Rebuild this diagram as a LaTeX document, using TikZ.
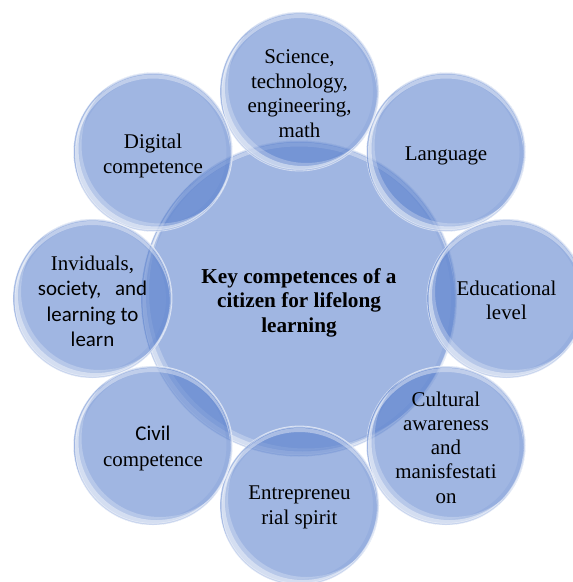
\documentclass[tikz,border=0pt]{standalone}
\usepackage{fontspec}
\setmainfont{Liberation Serif}
\newfontfamily\carl{Carlito}
\begin{document}
\definecolor{bubblecol}{RGB}{82,122,202}
\newcommand\gloss[2]{% #1 node name, #2 radius: glassy highlights of a bubble
  \begin{scope}
    \clip (#1.center) circle (#2);
    % darker band just inside the rim
    \draw[bubblecol, opacity=.12, line width=6bp] (#1.center) circle (#2-3);
    % bright crescent on the lower left
    \fill[white, opacity=.25, even odd rule] (#1.center) circle (#2-1)
      ([shift={(7,-7)}]#1.center) circle (#2-1);
    \fill[white, opacity=.45, even odd rule] (#1.center) circle (#2-1.5)
      ([shift={(3.5,-3.5)}]#1.center) circle (#2-1.5);
    % thin gloss along the top
    \fill[white, opacity=.4, even odd rule] (#1.center) circle (#2-2)
      ([shift={(0,4)}]#1.center) circle (#2-2);
  \end{scope}
  \draw[white, opacity=.55, line width=.8bp] (#1.center) circle (#2);
}
\begin{tikzpicture}[x=1bp, y=-1bp,
  bub/.style={circle, inner sep=0pt, minimum size=159bp, fill=bubblecol, fill opacity=.55},
  hub/.style={bub, minimum size=316bp},
  lbl/.style={align=center, inner sep=0pt, font=\fontsize{21}{24.7}\selectfont},
  hublbl/.style={align=center, inner sep=0pt, font=\fontsize{21.3}{24.5}\selectfont\bfseries}]
  \path[use as bounding box, clip] (0,0) rectangle (573,582);

  % central circle
  \node[hub] (hub) at (299,298.5) {};
  \gloss{hub}{158}

  % ring of eight competences
  \node[bub] (sci) at (299.5,91.5) {};
  \node[bub] (lang) at (446,152) {};
  \node[bub] (edu) at (506.5,298.5) {};
  \node[bub] (cul) at (446,445.5) {};
  \node[bub] (ent) at (299.5,505.5) {};
  \node[bub] (civ) at (153,445.5) {};
  \node[bub] (ind) at (92.5,298.5) {};
  \node[bub] (dig) at (153,152) {};
  \foreach \n in {sci,lang,edu,cul,ent,civ,ind,dig} {\gloss{\n}{79.5}}

  % labels (the picture's y axis points down, a negative yshift moves a label down)
  \node[hublbl] (hub-t) at ([yshift=-4bp]hub.center) {Key competences of a\\citizen for lifelong\\learning};
  \node[lbl] (sci-t) at ([yshift=-2bp]sci.center) {Science,\\technology,\\engineering,\\math};
  \node[lbl] (lang-t) at ([yshift=-4bp]lang.center) {Language};
  \node[lbl] (edu-t) at ([yshift=-2bp]edu.center) {Educational\\level};
  \node[lbl, font=\fontsize{21}{24.3}\selectfont] (cul-t) at ([yshift=-2bp]cul.center) {Cultural\\awareness\\and\\manisfestati\\on};
  \node[lbl] (ent-t) at ([yshift=-2bp]ent.center) {Entrepreneu\\rial spirit};
  \node[lbl, font=\fontsize{21}{25.6}\selectfont] (civ-t) at ([yshift=-3bp]civ.center) {\carl Civil\\competence};
  \node[lbl, font=\fontsize{21}{25.6}\selectfont] (ind-t) at ([yshift=-3bp]ind.center)
    {Inviduals,\\\carl society,\hspace{9bp} and\\\carl learning to\\\carl learn};
  \node[lbl] (dig-t) at ([yshift=-4bp]dig.center) {Digital\\competence};
\end{tikzpicture}
\end{document}
